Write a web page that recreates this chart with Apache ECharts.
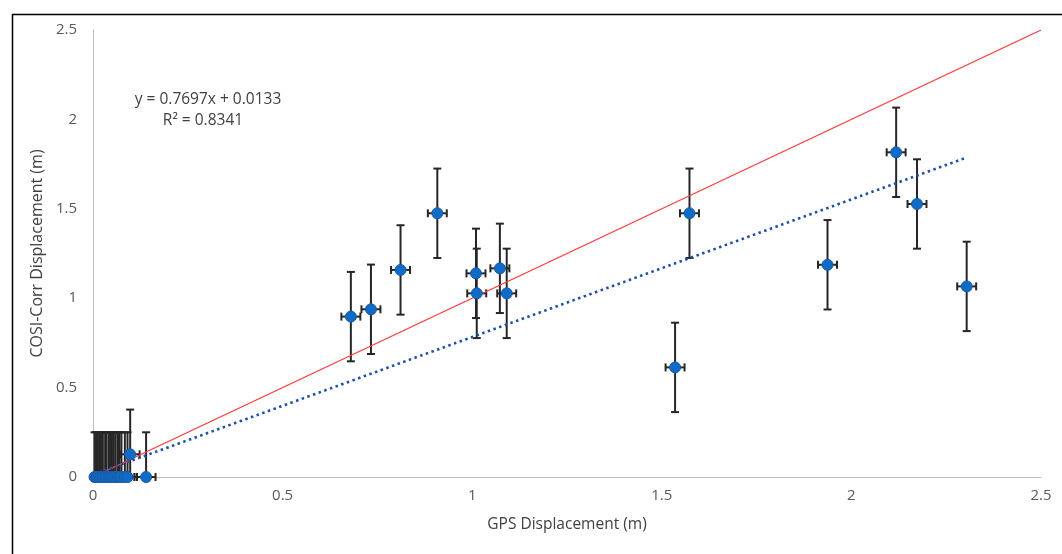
<!DOCTYPE html>
<html>
<head>
<meta charset="utf-8">
<script src="https://cdn.jsdelivr.net/npm/echarts@6/dist/echarts.min.js"></script>
<style>
html,body{margin:0;padding:0;background:#fff;}
#chart{width:1062px;height:554px;}
</style>
</head>
<body>
<div id="chart"></div>
<script>
// ---- data ----
const gpsX  = [0.004,0.008,0.012,0.016,0.021,0.026,0.032,0.036,0.042,0.046,0.05,0.055,0.06,0.066,0.07,0.075,0.084,0.091,0.098,0.14,
               0.68,0.733,0.811,0.908,1.010,1.012,1.073,1.091,1.535,1.573,1.937,2.118,2.173,2.304];
const cosiY = [0,0,0,0,0,0,0,0,0,0,0,0,0,0,0,0,0,0,0.127,0,
               0.897,0.938,1.158,1.475,1.139,1.027,1.167,1.027,0.613,1.475,1.187,1.816,1.527,1.066];
const errX = 0.025;
const errY = 0.25;
const trendSlope = 0.7697;
const trendIntercept = 0.0133;
const trendRange = [0, 2.3];
const refLine = [[0,0],[2.5,2.5]];
const xTicks = [0,0.5,1,1.5,2,2.5];
const yTicks = [0,0.5,1,1.5,2,2.5];
const eqText = 'y = 0.7697x + 0.0133';
const r2Text = 'R² = 0.8341';
const xName = 'GPS Displacement (m)';
const yName = 'COSI-Corr Displacement (m)';

const pts = gpsX.map((x,i)=>[x,cosiY[i]]);
const trend = trendRange.map(x=>[x, trendSlope*x + trendIntercept]);

const font = "'Open Sans', 'Liberation Sans', sans-serif";
const barColor = '#262626';

const chart = echarts.init(document.getElementById('chart'), null, {renderer:'canvas'});
chart.setOption({
  animation:false,
  backgroundColor:'#fff',
  graphic:[
    {type:'rect', left:10, top:12, shape:{width:1070, height:560}, style:{fill:'none', stroke:'#000', lineWidth:1.5}, z:-1},
    {type:'text', x:208, y:100, style:{text:eqText, fill:'#404040', fontSize:15.5, fontFamily:font, align:'center', verticalAlign:'middle'}},
    {type:'text', x:203, y:121, style:{text:r2Text, fill:'#404040', fontSize:15.5, fontFamily:font, align:'center', verticalAlign:'middle'}}
  ],
  grid:{left:93, right:21, top:30, bottom:77, containLabel:false},
  xAxis:{
    type:'value', min:0, max:2.5, interval:0.5,
    axisLine:{show:true, lineStyle:{color:'#bfbfbf', width:1}},
    axisTick:{show:false}, splitLine:{show:false},
    axisLabel:{color:'#595959', fontSize:15, fontFamily:font, margin:11,
      formatter:v=>xTicks.includes(v)?String(v):''},
    name:xName, nameLocation:'middle', nameGap:40,
    nameTextStyle:{color:'#404040', fontSize:15.5, fontFamily:font}
  },
  yAxis:{
    type:'value', min:0, max:2.5, interval:0.5,
    axisLine:{show:true, lineStyle:{color:'#bfbfbf', width:1}},
    axisTick:{show:false}, splitLine:{show:false},
    axisLabel:{color:'#595959', fontSize:15, fontFamily:font, margin:16,
      formatter:v=>yTicks.includes(v)?String(v):''},
    name:yName, nameLocation:'middle', nameGap:47, nameRotate:90,
    nameTextStyle:{color:'#404040', fontSize:16, fontFamily:font}
  },
  series:[
    {
      type:'custom', z:2,
      data:pts,
      renderItem:function(params, api){
        const x = api.value(0), y = api.value(1);
        const lo = Math.max(0, y - errY), hi = y + errY;
        const xl = Math.max(0, x - errX), xr = x + errX;
        const pTop = api.coord([x, hi]), pBot = api.coord([x, lo]);
        const pL = api.coord([xl, y]), pR = api.coord([xr, y]);
        const c = 4;
        const st = {stroke:barColor, lineWidth:2};
        const children = [
          {type:'line', shape:{x1:pTop[0],y1:pTop[1],x2:pBot[0],y2:pBot[1]}, style:st},
          {type:'line', shape:{x1:pTop[0]-c,y1:pTop[1],x2:pTop[0]+c,y2:pTop[1]}, style:st},
          {type:'line', shape:{x1:pL[0],y1:pL[1],x2:pR[0],y2:pR[1]}, style:st},
          {type:'line', shape:{x1:pR[0],y1:pR[1]-c,x2:pR[0],y2:pR[1]+c}, style:st}
        ];
        if (y - errY >= 0) children.push({type:'line', shape:{x1:pBot[0]-c,y1:pBot[1],x2:pBot[0]+c,y2:pBot[1]}, style:st});
        if (x - errX >= 0) children.push({type:'line', shape:{x1:pL[0],y1:pL[1]-c,x2:pL[0],y2:pL[1]+c}, style:st});
        return {type:'group', children};
      }
    },
    {
      type:'line', z:3, data:refLine, symbol:'none',
      lineStyle:{color:'#ff3b3b', width:1.3}
    },
    {
      type:'line', z:3, data:trend, symbol:'none',
      lineStyle:{color:'#1f4fa8', width:2.6, type:[2.5,3.5]}
    },
    {
      type:'scatter', z:4, data:pts, symbol:'circle', symbolSize:11,
      itemStyle:{color:'#0e6bc6', borderColor:'#1a5ca8', borderWidth:1, opacity:1}
    }
  ]
});
</script>
</body>
</html>
